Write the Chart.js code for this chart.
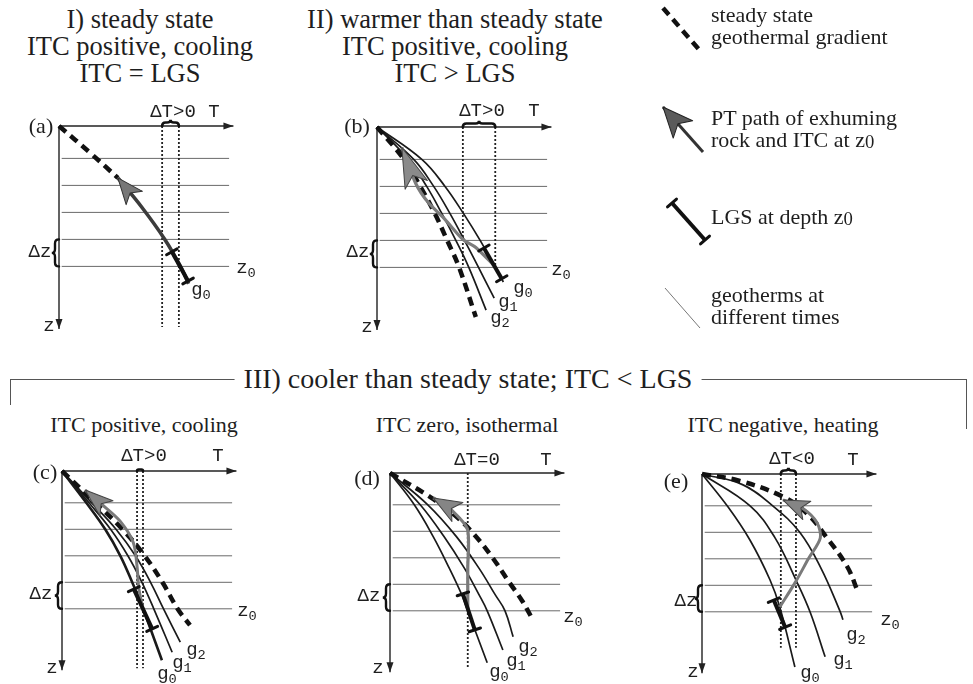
<!DOCTYPE html>
<html><head><meta charset="utf-8"><title>ITC and LGS geotherm diagrams</title>
<script src="https://cdn.jsdelivr.net/npm/chart.js"></script>
<style>
html,body{margin:0;padding:0;background:#fff}
#page{position:relative;width:973px;height:684px;overflow:hidden;background:#fff}
#page canvas{position:absolute}
.lb{position:absolute;white-space:nowrap;line-height:1;color:#1e1e1e;transform:translate(-50%,-50%);z-index:5}
.serif{font-family:"Liberation Serif","Times New Roman",serif}
.mono{font-family:"Liberation Mono","Courier New",monospace}
.lb sub{font-size:0.72em;vertical-align:-0.3em;line-height:0}
.leg{position:absolute;left:711px;font-family:"Liberation Serif","Times New Roman",serif;font-size:22px;line-height:22px;color:#1e1e1e;white-space:nowrap;z-index:5}
.leg sub{font-size:0.85em;vertical-align:-0.08em;line-height:0}
.br{position:absolute;border-top:1px solid #555;z-index:1}
#hdr{background:#fff;padding:0 9px;z-index:6}
</style></head>
<body><div id="page">
<div class="br" style="left:10px;top:379px;width:478px;height:25px;border-left:1px solid #555"></div>
<div class="br" style="left:488px;top:379px;width:478px;height:49px;border-right:1px solid #555"></div>
</div>
<script>
// ---------- data (T = temperature units, z = depth units) ----------
const zLines = [6, 11, 16, 21, 26];        // horizontal depth levels, z0 = 26
const hLineT = [0.5, 31.5];
const tAxisEnd = 32.3;
const zAxisEnd = 37.6;
const dzRange = [21, 26];

// (a) steady state
const aSteadyT = [0, 5.8, 10.9];
const aSteadyZ = [0, 5, 9.6];
const aPathT = [24.0, 22.5, 19.6, 15.3, 10.9];
const aPathZ = [29.2, 26, 21, 15, 9.6];
const aLgsT = [20.9, 23.9];
const aLgsZ = [23.3, 28.7];
const aDotT = [19.1, 22.2];
const aDotEnd = 37.2;

// (b) warmer than steady state
const bG0T = [0, 8.3, 12.6, 16.0, 19.1, 21.9, 23.4];
const bG0Z = [0, 6, 11, 16, 21, 26, 28.7];
const bG1T = [0, 6.8, 10.5, 13.5, 16.2, 18.8, 21.7];
const bG1Z = [0, 6, 11, 16, 21, 26, 31.7];
const bG2T = [0, 5.8, 9.2, 12.0, 14.6, 17.0, 20.2];
const bG2Z = [0, 6, 11, 16, 21, 26, 33.9];
const bSteadyT = [0, 5.0, 8.0, 10.7, 13.0, 15.2, 18.3];
const bSteadyZ = [0, 6, 11, 16, 21, 26, 35.2];
const bPathT = [22.0, 18.3, 15.9, 12.5, 9.5, 7.2, 4.6];
const bPathZ = [26, 22.3, 20.8, 17, 14, 10.5, 3.8];
const bLgsT = [19.8, 23.1];
const bLgsZ = [22.4, 28.1];
const bDotT = [15.9, 21.9];
const bDotEnd = 26;

// (c) cooler, ITC positive
const cG0T = [0, 4.5, 8.0, 10.8, 13.0, 15.0, 18.5];
const cG0Z = [0, 6, 11, 16, 21, 26, 35.7];
const cG1T = [0, 5.0, 9.0, 12.2, 14.8, 17.0, 20.4];
const cG1Z = [0, 6, 11, 16, 21, 26, 34.2];
const cG2T = [0, 5.5, 10.0, 13.6, 16.4, 18.8, 21.9];
const cG2Z = [0, 6, 11, 16, 21, 26, 32.3];
const cSteadyT = [0, 6.2, 11.2, 15.3, 18.6, 21.4, 23.7];
const cSteadyZ = [0, 6, 11, 16, 21, 26, 29.1];
const cPathT = [15.0, 14.2, 13.9, 13.2, 10.8, 7.5, 4.3];
const cPathZ = [26, 22, 18, 13.5, 9.5, 6.4, 3.6];
const cLgsT = [13.3, 16.7];
const cLgsZ = [22.3, 29.8];
const cDotT = [13.9, 15.0];
const cDotEnd = 37.2;

// (d) cooler, ITC zero
const dG0T = [0, 4.5, 8.0, 11.0, 13.3, 14.4, 18.0];
const dG0Z = [0, 6, 12, 18, 23, 26, 35.8];
const dG1T = [0, 5.6, 10.0, 13.8, 16.5, 18.0, 20.9];
const dG1Z = [0, 6, 12, 18, 23, 26, 33.4];
const dG2T = [0, 7.0, 12.3, 16.5, 19.5, 21.3, 22.8];
const dG2Z = [0, 6, 12, 18, 23, 26, 30.9];
const dSteadyT = [0, 7.4, 12.0, 15.5, 19.0, 22.0, 24.4, 26.3];
const dSteadyZ = [0, 4.5, 8.0, 11.5, 16, 20.5, 24, 27.4];
const dPathT = [14.4, 14.4, 14.4, 12.6, 10.2, 8.0];
const dPathZ = [26, 18, 10.8, 8.2, 6.0, 4.7];
const dLgsT = [13.5, 15.7];
const dLgsZ = [22.8, 29.6];
const dDotT = [14.4];
const dDotEnd = 36.8;

// (e) cooler, ITC negative
const eG0T = [0, 4.8, 8.9, 12.6, 14.4, 17.2];
const eG0Z = [0, 6.2, 12.5, 20, 25.1, 36.4];
const eG1T = [0, 8.9, 13.5, 17.4, 20.0, 22.8];
const eG1Z = [0, 6, 12, 20, 26, 34.5];
const eG2T = [0, 7.5, 13.1, 18.1, 22.0, 25.6, 26.1];
const eG2Z = [0, 2, 6, 11, 17.7, 26, 27.5];
const eSteadyT = [0, 7.0, 15.0, 19.5, 23.1, 26.9, 28.9];
const eSteadyZ = [0, 1.3, 4.3, 7.5, 12, 17.5, 22.3];
const ePathT = [14.4, 17.3, 19.7, 21.9, 21.3, 18.8, 15.0];
const ePathZ = [25.1, 20.4, 16, 12.1, 9.2, 6.6, 4.9];
const eLgsT = [13.3, 15.4];
const eLgsZ = [23.8, 28.9];
const eDotT = [14.6, 17.4];
const eDotEnd = 32.8;

// legend symbol: unit diagonal segment
const legSeg = [0, 1];
const legSegRev = [1, 0];

// ---------- layout (pixel placement of each panel) ----------
const LAY = {
  a: {ox: 59,  oy: 126, sx: 5.4, sy: 5.4},
  b: {ox: 377, oy: 127, sx: 5.4, sy: 5.4},
  c: {ox: 62,  oy: 471, sx: 5.4, sy: 5.3},
  d: {ox: 390, oy: 473, sx: 5.4, sy: 5.3},
  e: {ox: 702, oy: 474, sx: 5.4, sy: 5.3}
};
const PANEL_RANGE = {xmin: -4, xmax: 34, ymin: -4, ymax: 40};

const page = document.getElementById('page');

function pts(T, Z) { return T.map((t, i) => ({x: t, y: Z[i]})); }
function ln(T, Z, st) {
  return Object.assign({data: pts(T, Z), showLine: true, pointRadius: 0, pointHoverRadius: 0,
    fill: false, clip: false, borderColor: '#1a1a1a', borderWidth: 1.6, tension: 0.4,
    borderCapStyle: 'butt', order: 6}, st || {});
}

function arrowHead(ctx, x0, y0, x1, y1, o) {
  const a = Math.atan2(y1 - y0, x1 - x0);
  const L = o.len, W = o.width, nt = (o.notch == null ? 0.75 : o.notch);
  ctx.save(); ctx.translate(x1, y1); ctx.rotate(a);
  ctx.beginPath(); ctx.moveTo(0, 0); ctx.lineTo(-L, W / 2); ctx.lineTo(-L * nt, 0); ctx.lineTo(-L, -W / 2); ctx.closePath();
  ctx.fillStyle = o.fill; ctx.fill();
  if (o.stroke) { ctx.strokeStyle = o.stroke; ctx.lineWidth = o.lw || 1; ctx.lineJoin = 'round'; ctx.stroke(); }
  ctx.restore();
}
function cap(ctx, p, q, o) {
  const a = Math.atan2(q.y - p.y, q.x - p.x) + Math.PI / 2;
  const dx = Math.cos(a) * o.len / 2, dy = Math.sin(a) * o.len / 2;
  ctx.save(); ctx.strokeStyle = o.color; ctx.lineWidth = o.lw; ctx.lineCap = 'round';
  ctx.beginPath(); ctx.moveTo(p.x - dx, p.y - dy); ctx.lineTo(p.x + dx, p.y + dy); ctx.stroke(); ctx.restore();
}
function brace(ctx, ax, ay, bx, by, nx, ny, d, lw) {
  const len = Math.hypot(bx - ax, by - ay), ux = (bx - ax) / len, uy = (by - ay) / len;
  const dd = Math.min(d, len / 4), mx = (ax + bx) / 2, my = (ay + by) / 2;
  ctx.save(); ctx.strokeStyle = '#111'; ctx.lineWidth = lw; ctx.lineCap = 'round';
  ctx.beginPath(); ctx.moveTo(ax, ay);
  ctx.quadraticCurveTo(ax + nx * dd, ay + ny * dd, ax + nx * dd + ux * dd, ay + ny * dd + uy * dd);
  ctx.lineTo(mx - ux * dd + nx * dd, my - uy * dd + ny * dd);
  ctx.quadraticCurveTo(mx + nx * dd, my + ny * dd, mx + nx * 1.8 * dd, my + ny * 1.8 * dd);
  ctx.quadraticCurveTo(mx + nx * dd, my + ny * dd, mx + ux * dd + nx * dd, my + uy * dd + ny * dd);
  ctx.lineTo(bx - ux * dd + nx * dd, by - uy * dd + ny * dd);
  ctx.quadraticCurveTo(bx + nx * dd, by + ny * dd, bx, by);
  ctx.stroke(); ctx.restore();
}
function decor(braces) {
  return {id: 'decor', afterDatasetsDraw(chart) {
    const ctx = chart.ctx;
    chart.data.datasets.forEach((ds, i) => {
      const m = chart.getDatasetMeta(i).data, n = m.length;
      if (n < 2) return;
      if (ds.arrow) arrowHead(ctx, m[n - 2].x, m[n - 2].y, m[n - 1].x, m[n - 1].y, ds.arrow);
      if (ds.caps) { cap(ctx, m[0], m[1], ds.caps); cap(ctx, m[n - 1], m[n - 2], ds.caps); }
    });
    const xs = chart.scales.x, ys = chart.scales.y;
    (braces || []).forEach(b => {
      brace(ctx, xs.getPixelForValue(b.a[0]), ys.getPixelForValue(b.a[1]),
        xs.getPixelForValue(b.b[0]), ys.getPixelForValue(b.b[1]), b.n[0], b.n[1], b.d, b.lw || 2.4);
    });
  }};
}

function makeChart(L, R, datasets, braces) {
  const c = document.createElement('canvas');
  const left = Math.round(L.ox + R.xmin * L.sx), top = Math.round(L.oy + R.ymin * L.sy);
  const right = Math.round(L.ox + R.xmax * L.sx), bottom = Math.round(L.oy + R.ymax * L.sy);
  const w = right - left, h = bottom - top;
  c.width = w; c.height = h;
  c.style.left = left + 'px'; c.style.top = top + 'px'; c.style.width = w + 'px'; c.style.height = h + 'px';
  page.appendChild(c);
  return new Chart(c, {
    type: 'scatter',
    data: {datasets},
    options: {
      responsive: false, animation: false, events: [],
      layout: {padding: 0},
      plugins: {legend: {display: false}, tooltip: {enabled: false}, title: {display: false}},
      scales: {
        x: {type: 'linear', display: false, min: (left - L.ox) / L.sx, max: (right - L.ox) / L.sx},
        y: {type: 'linear', display: false, reverse: true, min: (top - L.oy) / L.sy, max: (bottom - L.oy) / L.sy}
      }
    },
    plugins: [decor(braces)]
  });
}

// ---------- styles ----------
const GEO = {borderColor: '#1a1a1a', borderWidth: 1.7, order: 6};
const STEADY = {borderColor: '#111', borderWidth: 4.5, borderDash: [9, 6], order: 5};
const LGS = {borderColor: '#111', borderWidth: 4, tension: 0, order: 2, caps: {len: 12, lw: 3, color: '#111'}};
function pathStyle(color, w, arrow) { return {borderColor: color, borderWidth: w, tension: 0.3, order: 3, arrow}; }

function frame(dotT, dotEnd) {
  const ds = [];
  zLines.forEach(z => ds.push(ln(hLineT, [z, z], {borderColor: '#6a6a6a', borderWidth: 1, tension: 0, order: 10})));
  dotT.forEach(t => ds.push(ln([t, t], [0, dotEnd], {borderColor: '#222', borderWidth: 1.8, borderDash: [2, 2], tension: 0, order: 9})));
  ds.push(ln([0, tAxisEnd], [0, 0], {borderColor: '#222', borderWidth: 1.4, tension: 0, order: 8, arrow: {len: 10, width: 7, notch: 1, fill: '#222'}}));
  ds.push(ln([0, 0], [0, zAxisEnd], {borderColor: '#222', borderWidth: 1.4, tension: 0, order: 8, arrow: {len: 10, width: 7, notch: 1, fill: '#222'}}));
  return ds;
}
function braces(dT) {
  const list = [{a: [0, dzRange[0]], b: [0, dzRange[1]], n: [-1, 0], d: 4, lw: 2.4}];
  if (dT && dT.length === 2) list.push({a: [dT[0], 0], b: [dT[1], 0], n: [0, -1], d: 3.5, lw: 2.6});
  return list;
}

// (a)
makeChart(LAY.a, PANEL_RANGE, [
  ...frame(aDotT, aDotEnd),
  ln(aSteadyT, aSteadyZ, STEADY),
  ln(aPathT, aPathZ, pathStyle('#3c3c3c', 3.6, {len: 26, width: 21, fill: '#777', stroke: '#333', lw: 1})),
  ln(aLgsT, aLgsZ, LGS)
], braces(aDotT));

// (b)
makeChart(LAY.b, PANEL_RANGE, [
  ...frame(bDotT, bDotEnd),
  ln(bG0T, bG0Z, GEO), ln(bG1T, bG1Z, GEO), ln(bG2T, bG2Z, GEO),
  ln(bSteadyT, bSteadyZ, STEADY),
  ln(bPathT, bPathZ, pathStyle('#7c7c7c', 3.2, {len: 40, width: 24, fill: '#8a8a8a', stroke: '#444', lw: 1})),
  ln(bLgsT, bLgsZ, LGS)
], braces(bDotT));

// (c)
makeChart(LAY.c, PANEL_RANGE, [
  ...frame(cDotT, cDotEnd),
  ln(cG0T, cG0Z, Object.assign({}, GEO, {borderWidth: 2.6})), ln(cG1T, cG1Z, GEO), ln(cG2T, cG2Z, GEO),
  ln(cSteadyT, cSteadyZ, STEADY),
  ln(cPathT, cPathZ, pathStyle('#7a7a7a', 3, {len: 28, width: 20, fill: '#858585', stroke: '#444', lw: 1})),
  ln(cLgsT, cLgsZ, LGS)
], braces(cDotT));

// (d)
makeChart(LAY.d, PANEL_RANGE, [
  ...frame(dDotT, dDotEnd),
  ln(dG0T, dG0Z, GEO), ln(dG1T, dG1Z, GEO), ln(dG2T, dG2Z, GEO),
  ln(dSteadyT, dSteadyZ, STEADY),
  ln(dPathT, dPathZ, pathStyle('#7a7a7a', 3.2, {len: 28, width: 22, fill: '#858585', stroke: '#444', lw: 1})),
  ln(dLgsT, dLgsZ, LGS)
], braces(null));

// (e)
makeChart(LAY.e, PANEL_RANGE, [
  ...frame(eDotT, eDotEnd),
  ln(eG0T, eG0Z, GEO), ln(eG1T, eG1Z, GEO), ln(eG2T, eG2Z, GEO),
  ln(eSteadyT, eSteadyZ, STEADY),
  ln(ePathT, ePathZ, pathStyle('#7a7a7a', 3, {len: 26, width: 20, fill: '#858585', stroke: '#444', lw: 1})),
  ln(eLgsT, eLgsZ, LGS)
], braces(eDotT));

// legend symbols
const LEG_R = {xmin: -0.5, xmax: 1.5, ymin: -0.5, ymax: 1.5};
makeChart({ox: 663, oy: 8, sx: 39, sy: 45}, LEG_R, [ln(legSeg, legSeg, Object.assign({}, STEADY, {tension: 0}))], []);
makeChart({ox: 663, oy: 107, sx: 40, sy: 45}, LEG_R, [ln(legSegRev, legSegRev, {borderColor: '#333', borderWidth: 3, tension: 0, arrow: {len: 30, width: 26, fill: '#5a5a5a', stroke: '#222', lw: 1}})], []);
makeChart({ox: 672, oy: 203, sx: 33, sy: 37}, LEG_R, [ln(legSeg, legSeg, LGS)], []);
makeChart({ox: 665, oy: 288, sx: 35, sy: 40}, LEG_R, [ln(legSeg, legSeg, {borderColor: '#777', borderWidth: 1, tension: 0})], []);

// ---------- text ----------
const LABELS = [
  ['I) steady state', 140, 19, 'serif', 26.5], ['ITC positive, cooling', 140, 46, 'serif', 26.5], ['ITC = LGS', 140, 73, 'serif', 26.5],
  ['II) warmer than steady state', 455, 19, 'serif', 26.5], ['ITC positive, cooling', 455, 46, 'serif', 26.5], ['ITC &gt; LGS', 455, 73, 'serif', 26.5],
  ['ITC positive, cooling', 144, 425, 'serif', 22], ['ITC zero, isothermal', 467, 425, 'serif', 22], ['ITC negative, heating', 783, 425, 'serif', 22],
  // (a)
  ['(a)', 41, 126, 'serif', 22], ['&Delta;T&gt;0', 173, 112, 'mono', 19], ['T', 214, 112, 'mono', 19], ['&Delta;z', 40, 252, 'mono', 19],
  ['z<sub>0</sub>', 246, 268, 'mono', 19], ['g<sub>0</sub>', 201, 290, 'mono', 19], ['z', 49, 326, 'mono', 19],
  // (b)
  ['(b)', 357, 126, 'serif', 22], ['&Delta;T&gt;0', 482, 111, 'mono', 19], ['T', 534, 111, 'mono', 19], ['&Delta;z', 358, 252, 'mono', 19],
  ['z<sub>0</sub>', 561, 270, 'mono', 19], ['g<sub>0</sub>', 523, 288, 'mono', 19], ['g<sub>1</sub>', 508, 302, 'mono', 19],
  ['g<sub>2</sub>', 500, 318, 'mono', 19], ['z', 367, 327, 'mono', 19],
  // (c)
  ['(c)', 45, 472, 'serif', 22], ['&Delta;T&gt;0', 144, 456, 'mono', 19], ['T', 218, 456, 'mono', 19], ['&Delta;z', 41, 594, 'mono', 19],
  ['z<sub>0</sub>', 247, 611, 'mono', 19], ['g<sub>0</sub>', 167, 674, 'mono', 19], ['g<sub>1</sub>', 182, 663, 'mono', 19],
  ['g<sub>2</sub>', 196, 650, 'mono', 19], ['z', 52, 668, 'mono', 19],
  // (d)
  ['(d)', 367, 478, 'serif', 22], ['&Delta;T=0', 477, 460, 'mono', 19], ['T', 546, 460, 'mono', 19], ['&Delta;z', 369, 596, 'mono', 19],
  ['z<sub>0</sub>', 573, 617, 'mono', 19], ['g<sub>2</sub>', 528, 647, 'mono', 19], ['g<sub>1</sub>', 516, 661, 'mono', 19],
  ['g<sub>0</sub>', 499, 672, 'mono', 19], ['z', 378, 668, 'mono', 19],
  // (e)
  ['(e)', 676, 481, 'serif', 22], ['&Delta;T&lt;0', 792, 459, 'mono', 19], ['T', 853, 460, 'mono', 19], ['&Delta;z', 686, 601, 'mono', 19],
  ['z<sub>0</sub>', 890, 620, 'mono', 19], ['g<sub>2</sub>', 856, 635, 'mono', 19], ['g<sub>1</sub>', 843, 660, 'mono', 19],
  ['g<sub>0</sub>', 810, 673, 'mono', 19], ['z', 693, 672, 'mono', 19]
];
LABELS.forEach(([html, x, y, fam, size]) => {
  const d = document.createElement('div');
  d.className = 'lb ' + fam; d.innerHTML = html;
  d.style.left = x + 'px'; d.style.top = y + 'px'; d.style.fontSize = size + 'px';
  page.appendChild(d);
});
const hdr = document.createElement('div');
hdr.id = 'hdr'; hdr.className = 'lb serif'; hdr.style.left = '468px'; hdr.style.top = '379px'; hdr.style.fontSize = '28px';
hdr.innerHTML = 'III) cooler than steady state; ITC &lt; LGS';
page.appendChild(hdr);

const LEGEND = [
  [4, 'steady state<br>geothermal gradient'],
  [107, 'PT path of exhuming<br>rock and ITC at z<sub>0</sub>'],
  [206, 'LGS at depth z<sub>0</sub>'],
  [284, 'geotherms at<br>different times']
];
LEGEND.forEach(([top, html]) => {
  const d = document.createElement('div');
  d.className = 'leg'; d.style.top = top + 'px'; d.innerHTML = html;
  page.appendChild(d);
});
</script>
</body></html>
